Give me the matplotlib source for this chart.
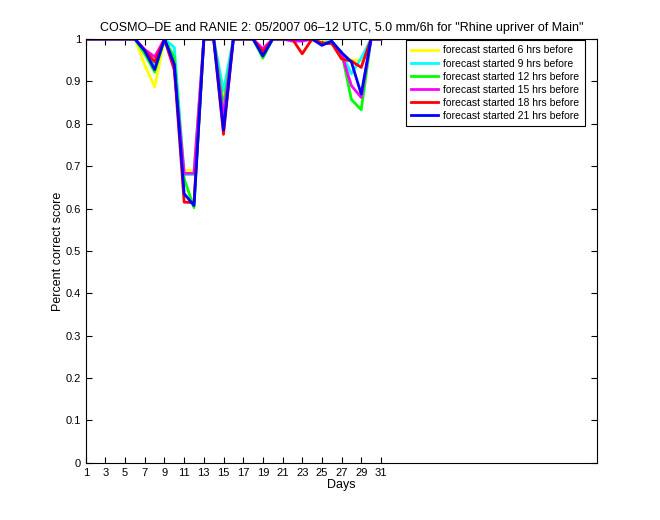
import numpy as np
import matplotlib
matplotlib.use('Agg')
import matplotlib.pyplot as plt

plt.rcParams['font.family'] = ['Liberation Sans', 'DejaVu Sans']

# Tage im Mai 2007
days = np.arange(1, 32)

# Percent correct score je Vorlaufzeit
pc_06h = [1, 1, 1, 1, 1, 1, 0.938, 0.887, 1, 0.95, 0.69, 0.69, 1, 1, 0.87, 1,
          1, 1, 0.97, 1, 1, 1, 1, 0.994, 1, 0.99, 0.965, 0.95, 0.95, 1, 1]
pc_09h = [1, 1, 1, 1, 1, 1, 0.965, 0.938, 1, 0.98, 0.68, 0.68, 1, 1, 0.878, 1,
          1, 1, 0.965, 1, 1, 1, 1, 1, 0.99, 0.995, 0.965, 0.918, 0.955, 1, 1]
pc_12h = [1, 1, 1, 1, 1, 1, 0.965, 0.922, 1, 0.957, 0.67, 0.602, 1, 1, 0.84, 1,
          1, 1, 0.955, 1, 1, 1, 1, 1, 0.99, 0.989, 0.97, 0.857, 0.833, 1, 1]
pc_15h = [1, 1, 1, 1, 1, 1, 0.975, 0.958, 1, 0.926, 0.683, 0.683, 1, 1, 0.816, 1,
          1, 1, 0.977, 1, 1, 0.995, 0.995, 1, 0.99, 0.99, 0.965, 0.89, 0.862, 1, 1]
pc_18h = [1, 1, 1, 1, 1, 1, 0.973, 0.946, 1, 0.93, 0.615, 0.614, 1, 1, 0.775, 1,
          1, 1, 0.97, 1, 1, 1, 0.965, 1, 0.99, 0.99, 0.953, 0.948, 0.933, 1, 1]
pc_21h = [1, 1, 1, 1, 1, 1, 0.972, 0.928, 1, 0.94, 0.635, 0.607, 1, 1, 0.785, 1,
          1, 1, 0.96, 1, 1, 1, 1, 1, 0.985, 0.995, 0.968, 0.946, 0.87, 1, 1]

series = [pc_06h, pc_09h, pc_12h, pc_15h, pc_18h, pc_21h]
labels = ['forecast started 6 hrs before', 'forecast started 9 hrs before',
          'forecast started 12 hrs before', 'forecast started 15 hrs before',
          'forecast started 18 hrs before', 'forecast started 21 hrs before']
colors = ['#ffff00', '#00ffff', '#00ff00', '#ff00ff', '#ff0000', '#0000ff']

fig = plt.figure(figsize=(6.6, 5.2), dpi=100)
ax = fig.add_axes([0.13, 0.11, 0.775, 0.815])

for vals, lab, col in zip(series, labels, colors):
    ax.plot(days, vals, color=col, linewidth=2, label=lab)

ax.set_xlim(1, 53)
ax.set_ylim(0, 1)
ax.set_xticks(np.arange(1, 32, 2))
ax.set_yticks(np.arange(0, 1.01, 0.1))
ax.set_yticklabels(['0', '0.1', '0.2', '0.3', '0.4', '0.5', '0.6', '0.7', '0.8', '0.9', '1'])
ax.tick_params(direction='in', top=True, right=True, labelsize=8, length=4)

ax.set_title('COSMO\u2013DE and RANIE 2: 05/2007 06\u201312 UTC, 5.0 mm/6h for "Rhine upriver of Main"',
             fontsize=9)
ax.set_xlabel('Days', fontsize=9, labelpad=1)
ax.set_ylabel('Percent correct score', fontsize=9)
ax.yaxis.set_label_coords(-0.043, 0.5)

leg = ax.legend(loc='upper right', bbox_to_anchor=(0.975, 0.997), fontsize=7.5,
                handlelength=2.6, fancybox=False, framealpha=1, edgecolor='black',
                borderaxespad=0, labelspacing=0.3, handletextpad=0.5, borderpad=0.5)
leg.get_frame().set_linewidth(0.8)

fig.savefig('out.png', dpi=100)
